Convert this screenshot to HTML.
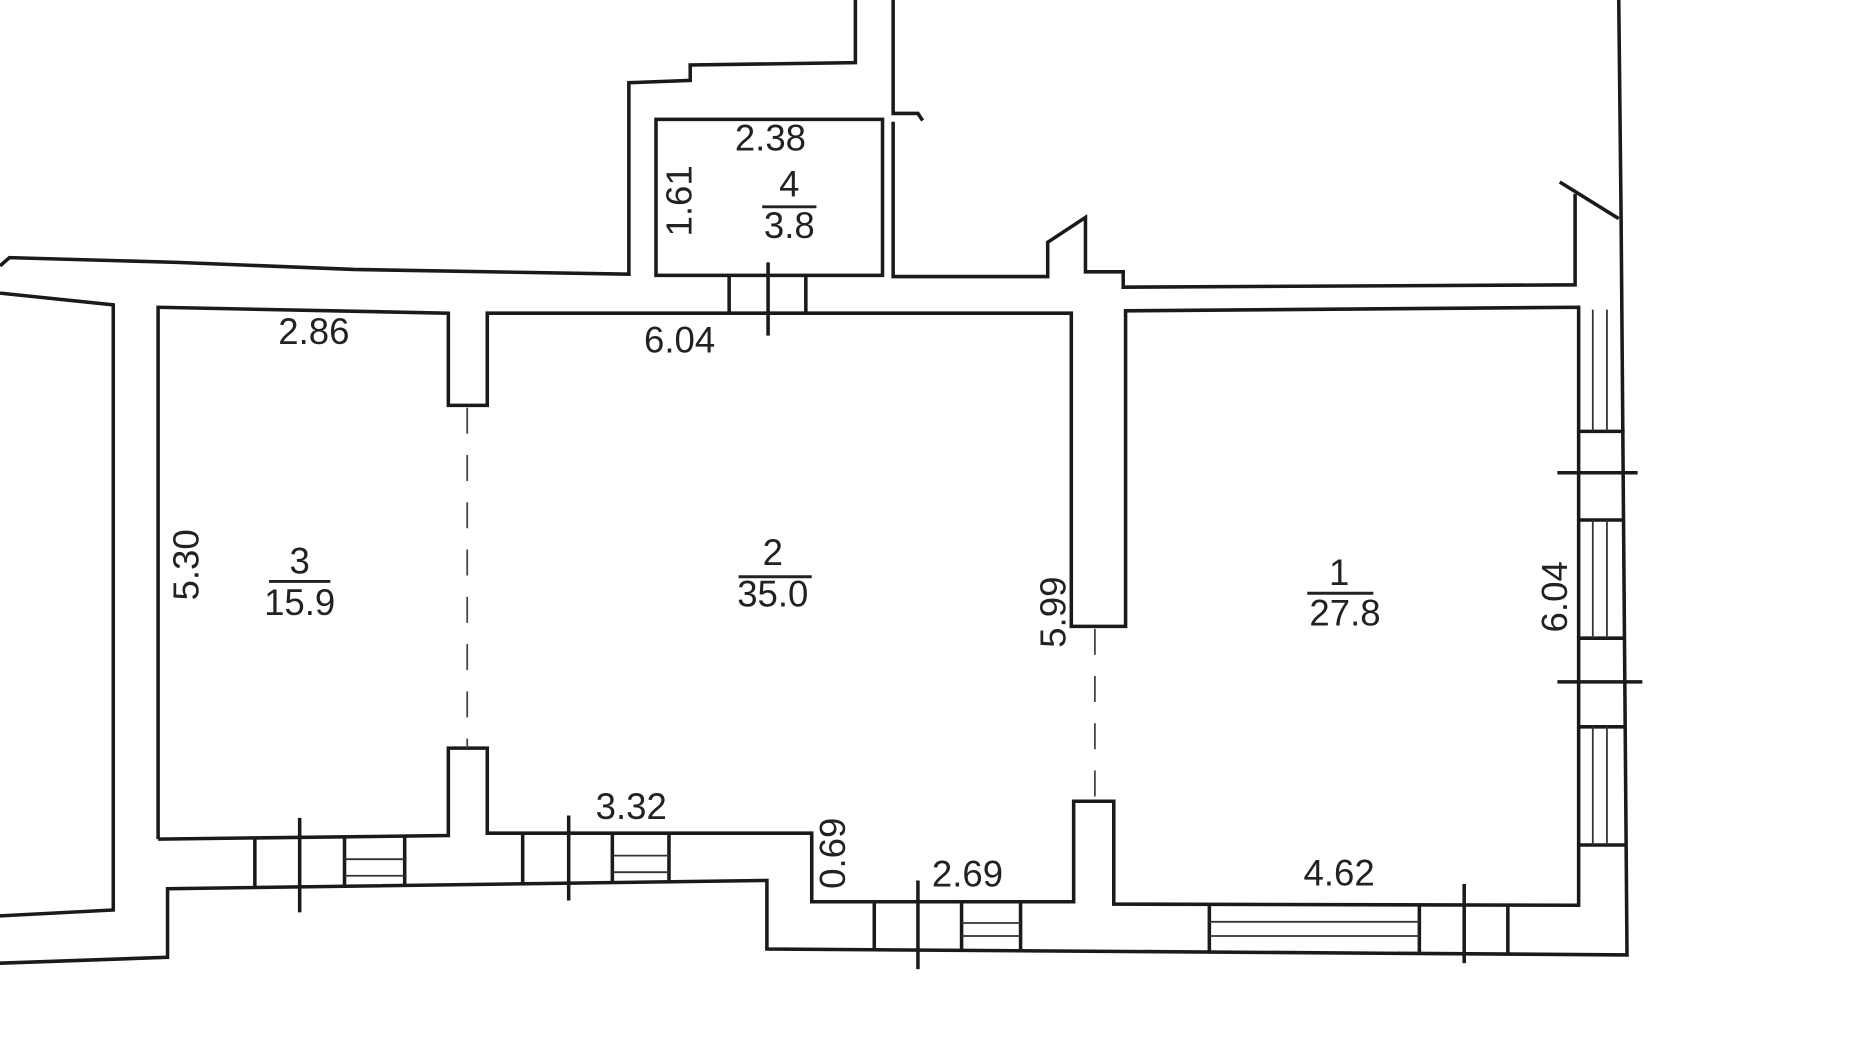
<!DOCTYPE html>
<html><head><meta charset="utf-8"><style>
html,body{margin:0;padding:0;background:#fff;}
svg{display:block;}
text{font-family:"Liberation Sans",sans-serif;font-size:31px;fill:#222;text-anchor:middle;dominant-baseline:middle;}
</style></head><body>
<svg width="1850" height="1040" viewBox="0 0 1568 880" preserveAspectRatio="none" xmlns="http://www.w3.org/2000/svg">
<g fill="none" stroke="#1a1a1a" stroke-width="3" stroke-linejoin="miter">
<polyline points="725,0 725,53 585,55 585,68 533,70 533,232 300,228 150,222 8,218 0,225"/>
<polyline points="757,0 757,96 778,96 782,102"/>
<rect x="556" y="101" width="192" height="132"/>
<polyline points="757,103 757,234 888,234 888,205 920,184 920,230 952,230 952,243 1335,241 1335,164"/>
<line x1="1322" y1="154" x2="1372" y2="185"/>
<polyline points="1372,0 1374,185 1379,808 650,803 650,745 142,752 142,810 0,815"/>
<polyline points="0,248 96,258 96,770 0,775"/>
<polyline points="134,710 134,260 380,265 380,343 413,343 413,265 908,265 908,530 954,530 954,263 1338,260 1338,766 944,765 944,678 910,678 910,763 688,763 688,705 413,705 413,633 380,633 380,707 134,710"/>
<line x1="618" y1="234" x2="618" y2="265"/><line x1="683" y1="234" x2="683" y2="265"/>
<line x1="651" y1="222" x2="651" y2="284"/>
<line x1="216" y1="708" x2="216" y2="750"/><line x1="292" y1="708" x2="292" y2="750"/><line x1="343" y1="707" x2="343" y2="749"/>
<line x1="254" y1="692" x2="254" y2="772"/>
<line x1="443" y1="705" x2="443" y2="747"/><line x1="519" y1="705" x2="519" y2="746"/><line x1="567" y1="705" x2="567" y2="746"/>
<line x1="482" y1="690" x2="482" y2="762"/>
<line x1="741" y1="763" x2="741" y2="803"/><line x1="815" y1="763" x2="815" y2="803"/><line x1="865" y1="763" x2="865" y2="803"/>
<line x1="778" y1="745" x2="778" y2="820"/>
<line x1="1025" y1="765" x2="1025" y2="805"/><line x1="1203" y1="765" x2="1203" y2="806"/><line x1="1278" y1="766" x2="1278" y2="807"/>
<line x1="1241" y1="748" x2="1241" y2="815"/>
<line x1="1338" y1="365" x2="1377" y2="365"/><line x1="1338" y1="440" x2="1377" y2="440"/>
<line x1="1338" y1="540" x2="1378" y2="540"/><line x1="1338" y1="615" x2="1378" y2="615"/><line x1="1338" y1="715" x2="1378" y2="715"/>
<line x1="1320" y1="400" x2="1388" y2="400"/><line x1="1320" y1="577" x2="1392" y2="577"/>
</g>
<g stroke="#333" stroke-width="1.5">
<line x1="292" y1="727" x2="343" y2="727"/><line x1="292" y1="741" x2="343" y2="741"/>
<line x1="519" y1="724" x2="567" y2="724"/><line x1="519" y1="738" x2="567" y2="738"/>
<line x1="815" y1="781" x2="865" y2="781"/><line x1="815" y1="792" x2="865" y2="792"/>
<line x1="1025" y1="780" x2="1203" y2="780"/><line x1="1025" y1="792" x2="1203" y2="792"/>
<line x1="1350" y1="262" x2="1350" y2="365"/><line x1="1362" y1="262" x2="1362" y2="365"/>
<line x1="1350" y1="440" x2="1350" y2="540"/><line x1="1362" y1="440" x2="1362" y2="540"/>
<line x1="1350" y1="615" x2="1350" y2="715"/><line x1="1362" y1="615" x2="1362" y2="715"/>
</g>
<g stroke="#444" stroke-width="1.5" stroke-dasharray="22,18">
<line x1="396" y1="345" x2="396" y2="633"/>
<line x1="928" y1="532" x2="928" y2="678"/>
</g>
<g stroke="#222" stroke-width="2.5">
<line x1="646" y1="175" x2="692" y2="175"/>
<line x1="228" y1="492" x2="280" y2="492"/>
<line x1="626" y1="488" x2="688" y2="488"/>
<line x1="1108" y1="502" x2="1164" y2="502"/>
</g>
<text x="653" y="119">2.38</text>
<text x="669" y="158">4</text>
<text x="669" y="193">3.8</text>
<text transform="translate(578,170) rotate(-90)">1.61</text>
<text x="266" y="283">2.86</text>
<text x="576" y="290">6.04</text>
<text transform="translate(160,478) rotate(-90)">5.30</text>
<text x="254" y="477">3</text>
<text x="254" y="512">15.9</text>
<text x="655" y="470">2</text>
<text x="655" y="505">35.0</text>
<text transform="translate(895,518) rotate(-90)">5.99</text>
<text x="1135" y="487">1</text>
<text x="1140" y="521">27.8</text>
<text transform="translate(1320,505) rotate(-90)">6.04</text>
<text x="535" y="685">3.32</text>
<text transform="translate(708,722) rotate(-90)">0.69</text>
<text x="820" y="742">2.69</text>
<text x="1135" y="741">4.62</text>
</svg>
</body></html>
